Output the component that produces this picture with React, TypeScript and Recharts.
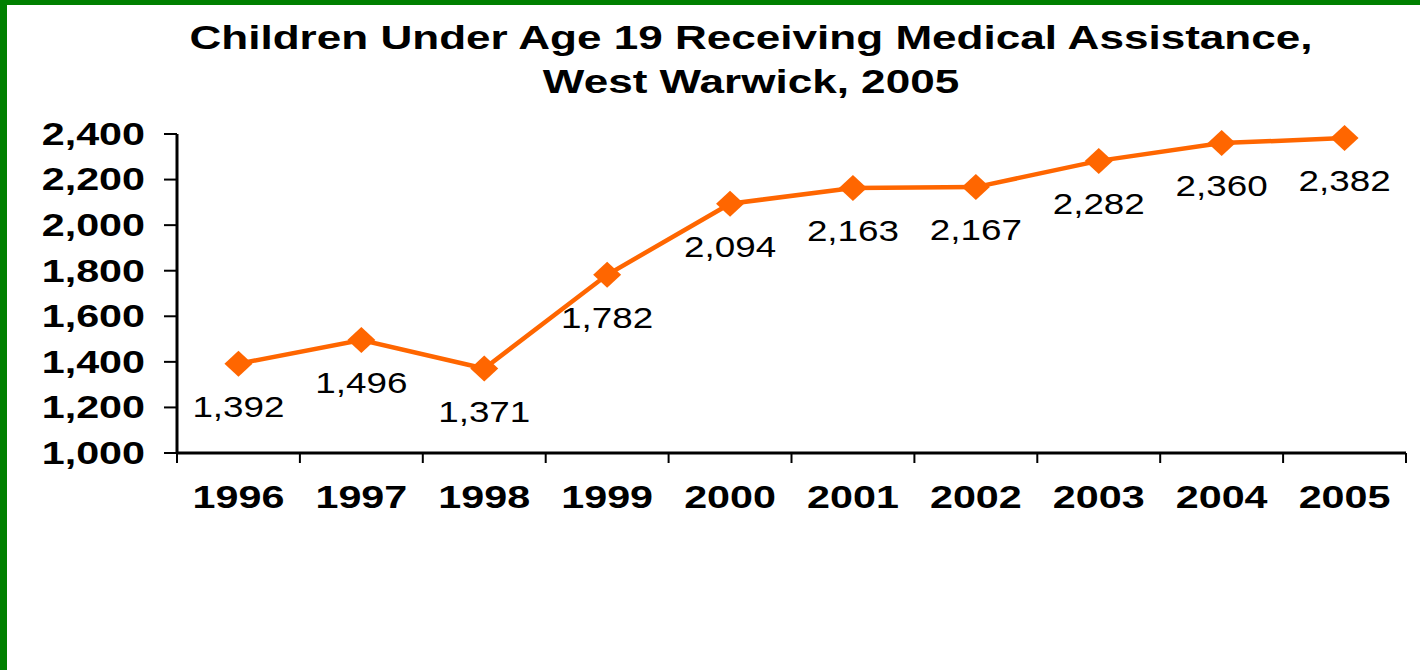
import { LineChart, Line, XAxis, YAxis, LabelList } from 'recharts';

const years = ['1996', '1997', '1998', '1999', '2000', '2001', '2002', '2003', '2004', '2005'];
const children = [1392, 1496, 1371, 1782, 2094, 2163, 2167, 2282, 2360, 2382];
const yTicks = [1000, 1200, 1400, 1600, 1800, 2000, 2200, 2400];

const data = years.map((year, i) => ({ idx: i, year, value: children[i] }));
// label ticks at each year, plus tick marks on the category edges (half steps)
const xTicks = [-0.5, ...years.flatMap((_, i) => [i, i + 0.5])];

const FONT = '"Liberation Sans", Arial, sans-serif';
const SX = 1.29; // the original slide is stretched sideways
const fmt = (v: number) => v.toLocaleString('en-US');

const YTick = ({ x, y, payload }: any) => (
  <g transform={`translate(${x},${y}) scale(${SX},1)`}>
    <text textAnchor="end" dominantBaseline="central" fontFamily={FONT} fontWeight="bold" fontSize={32} fill="#000">
      {fmt(payload.value)}
    </text>
  </g>
);

const XTick = ({ x, y, payload }: any) => {
  const v = payload.value;
  if (!Number.isInteger(v)) {
    return <line x1={x} x2={x} y1={y} y2={y + 10} stroke="#000" strokeWidth={2} />;
  }
  return (
    <g transform={`translate(${x},${y + 44}) scale(${SX},1)`}>
      <text textAnchor="middle" dominantBaseline="central" fontFamily={FONT} fontWeight="bold" fontSize={32} fill="#000">
        {years[v]}
      </text>
    </g>
  );
};

const Diamond = (p: any) => {
  const { cx, cy, index } = p;
  return (
    <polygon
      key={`d-${index}`}
      points={`${cx - 14},${cy} ${cx},${cy - 13} ${cx + 14},${cy} ${cx},${cy + 13}`}
      fill="#FF6600"
    />
  );
};

const ValueLabel = (p: any) => {
  const { x, y, value, index } = p;
  return (
    <g key={`l-${index}`} transform={`translate(${x},${y + 43}) scale(1.27,1)`}>
      <text textAnchor="middle" dominantBaseline="central" fontFamily={FONT} fontSize={29} fill="#000">
        {fmt(value)}
      </text>
    </g>
  );
};

export default function App() {
  return (
    <div style={{ position: 'absolute', left: 0, top: 0, width: 1420, height: 670, background: '#fff', overflow: 'hidden' }}>
      <div style={{ position: 'absolute', left: 0, top: 0, width: 1420, height: 5, background: '#008000' }} />
      <div style={{ position: 'absolute', left: 0, top: 0, width: 7, height: 670, background: '#008000' }} />
      <div
        style={{
          position: 'absolute',
          left: 151,
          top: 16,
          width: 1200,
          textAlign: 'center',
          fontFamily: FONT,
          fontWeight: 'bold',
          fontSize: 33,
          lineHeight: '44px',
          transform: 'scaleX(1.335)',
          transformOrigin: 'center',
          color: '#000',
        }}
      >
        Children Under Age 19 Receiving Medical Assistance,
        <br />
        West Warwick, 2005
      </div>
      <LineChart width={1420} height={670} data={data} margin={{ top: 134, right: 14, bottom: 157, left: 0 }}>
        <XAxis
          type="number"
          dataKey="idx"
          domain={[-0.5, 9.5]}
          ticks={xTicks}
          interval={0}
          height={60}
          tickLine={false}
          tickSize={0}
          tickMargin={0}
          tick={<XTick />}
          axisLine={{ stroke: '#000', strokeWidth: 3 }}
        />
        <YAxis
          domain={[1000, 2400]}
          ticks={yTicks}
          width={177}
          tickSize={13}
          tickMargin={19}
          tick={<YTick />}
          axisLine={{ stroke: '#000', strokeWidth: 3 }}
          tickLine={{ stroke: '#000', strokeWidth: 2 }}
        />
        <Line
          type="linear"
          dataKey="value"
          stroke="#FF6600"
          strokeWidth={4.5}
          dot={Diamond}
          activeDot={false}
          isAnimationActive={false}
        >
          <LabelList dataKey="value" content={ValueLabel} />
        </Line>
      </LineChart>
    </div>
  );
}
